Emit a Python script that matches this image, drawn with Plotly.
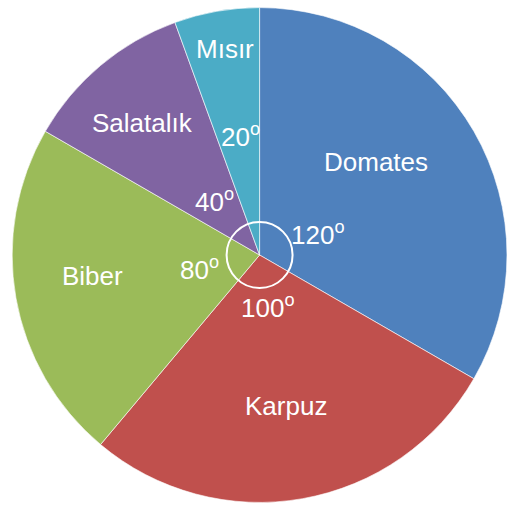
import math
import plotly.graph_objects as go

# ---- data ----
categories = ["Domates", "Karpuz", "Biber", "Salatalık", "Mısır"]
degrees = [120, 100, 80, 40, 20]
value_labels = ["120<sup>o</sup>", "100<sup>o</sup>", "80<sup>o</sup>", "40<sup>o</sup>", "20<sup>o</sup>"]
colors = ["#4F81BD", "#C0504D", "#9BBB59", "#8064A2", "#4BACC6"]

# ---- layout / style constants ----
W, H = 507, 510
dom_x = [0.024, 1.0]
dom_y = [0.006, 0.994]
FONT = "Liberation Sans, Arial, sans-serif"
FS = 26
# label placement (angle offset in degrees, radius in px) per slice
name_pos = [(-9, 147), (1, 153), (3, 170), (-2, 178), (0, 209)]
val_pos = [(9, 60), (3, 52), (-2, 63), (-1, 72), (0, 121)]
ring_r = 33

fig = go.Figure(go.Pie(
    labels=categories,
    values=degrees,
    sort=False,
    direction="clockwise",
    rotation=0,
    textinfo="none",
    hoverinfo="label+value",
    marker=dict(colors=colors, line=dict(color="rgba(255,255,255,0.6)", width=1)),
    domain=dict(x=dom_x, y=dom_y),
    showlegend=False,
))

# pie center in pixels (from top-left)
cx = (dom_x[0] + dom_x[1]) / 2 * W
cy = H - (dom_y[0] + dom_y[1]) / 2 * H

total = sum(degrees)
annotations = []
start = 0.0
for i, v in enumerate(degrees):
    span = v / total * 360.0
    mid = start + span / 2
    for text, (off, r) in ((categories[i], name_pos[i]), (value_labels[i], val_pos[i])):
        a = math.radians(mid + off)
        px = cx + 2 + r * math.sin(a)
        py = cy - r * math.cos(a)
        annotations.append(dict(
            x=px / W, y=1 - py / H, xref="paper", yref="paper",
            text=text, showarrow=False,
            font=dict(family=FONT, size=FS, color="white"),
            xanchor="center", yanchor="middle",
        ))
    start += span

fig.update_layout(
    width=W, height=H,
    margin=dict(l=0, r=0, t=0, b=0),
    paper_bgcolor="white",
    annotations=annotations,
    shapes=[dict(
        type="circle", xref="paper", yref="paper",
        x0=(cx - ring_r) / W, x1=(cx + ring_r) / W,
        y0=1 - (cy + ring_r) / H, y1=1 - (cy - ring_r) / H,
        line=dict(color="white", width=2),
    )],
)

fig.write_html(
    "out.html",
    config={"displayModeBar": False},
    post_script="document.body.style.margin='0';document.body.style.overflow='hidden';",
)
